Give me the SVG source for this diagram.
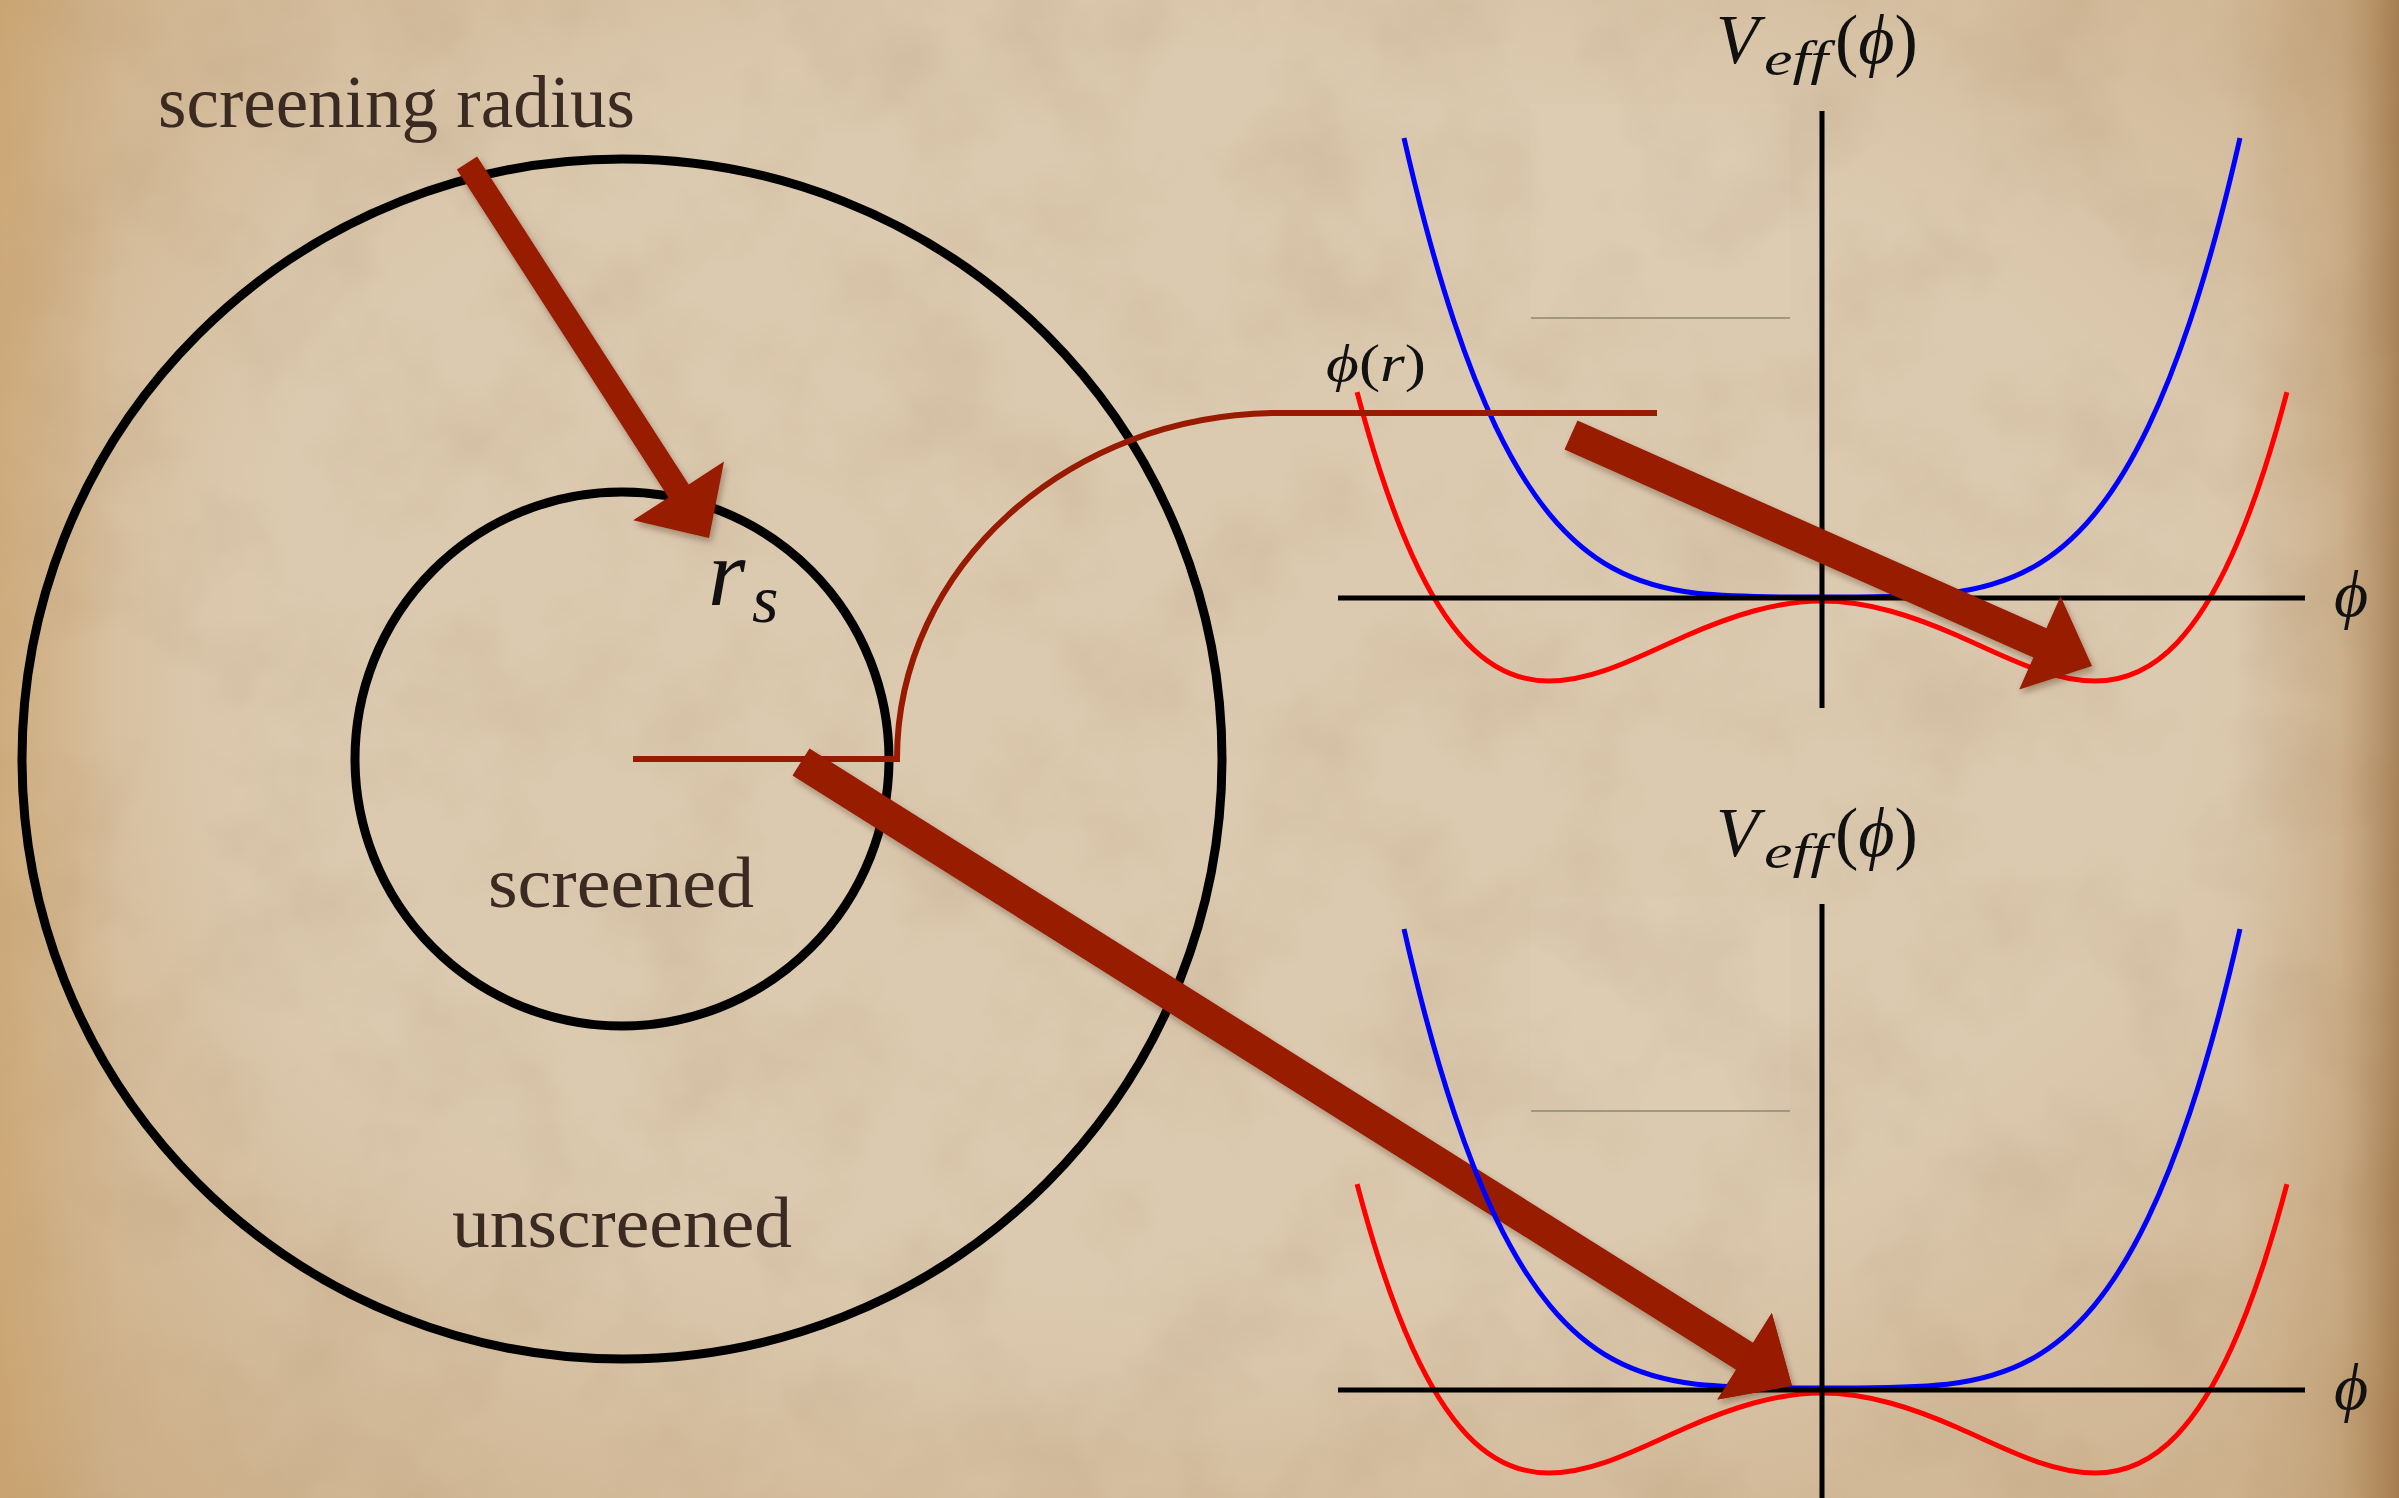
<svg xmlns="http://www.w3.org/2000/svg" xmlns:xlink="http://www.w3.org/1999/xlink" width="2399" height="1498" viewBox="0 0 2399 1498">
<style>
.ring{fill:none;stroke:#000;stroke-width:9}
.label{font-family:"Liberation Serif","DejaVu Serif",serif;fill:#3a2a22}
.math{font-family:"Liberation Serif","DejaVu Serif",serif;fill:#111;font-variant-ligatures:none;font-feature-settings:"liga" 0}
.axis{stroke:#000;stroke-width:5;fill:none}
.blue{fill:none;stroke:#0000ff;stroke-width:5;stroke-linejoin:round}
.red{fill:none;stroke:#ff0000;stroke-width:5;stroke-linejoin:round}
.arrow{fill:#981a00}
.conn{fill:none;stroke:#981a00;stroke-width:6}
.ghost{stroke:#a29684;stroke-width:2}
</style>
<defs>
<linearGradient id="edgeH" x1="0" y1="0" x2="1" y2="0">
<stop offset="0" stop-color="#c89a5e" stop-opacity="0.55"/>
<stop offset="0.05" stop-color="#c89a5e" stop-opacity="0.12"/>
<stop offset="0.12" stop-color="#c89a5e" stop-opacity="0"/>
<stop offset="0.93" stop-color="#a87840" stop-opacity="0"/>
<stop offset="0.975" stop-color="#a87840" stop-opacity="0.25"/>
<stop offset="1" stop-color="#8a5a28" stop-opacity="0.6"/>
</linearGradient>
<radialGradient id="vig" cx="0.5" cy="0.45" r="0.75">
<stop offset="0.55" stop-color="#b58a55" stop-opacity="0"/>
<stop offset="1" stop-color="#b58a55" stop-opacity="0.45"/>
</radialGradient>
<filter id="paper" x="0" y="0" width="1" height="1">
<feTurbulence type="fractalNoise" baseFrequency="0.008" numOctaves="4" seed="7"/>
<feColorMatrix type="matrix" values="0 0 0 0 0.55  0 0 0 0 0.42  0 0 0 0 0.28  0.9 0 0 0 -0.38"/>
</filter>
<filter id="shadow" x="-5%" y="-5%" width="110%" height="110%">
<feDropShadow dx="2" dy="4" stdDeviation="3" flood-color="#3a2010" flood-opacity="0.35"/>
</filter>
<path id="blueCurve" d="M-418,-459 C-411.03,-428.4 -404.07,-400.13 -397.1,-373.9 C-387.35,-337.17 -377.59,-304.49 -367.84,-275.3 C-353.91,-233.6 -339.97,-198.94 -326.04,-169.9 C-307.93,-132.15 -289.81,-103.78 -271.7,-81.93 C-250.8,-56.72 -229.9,-40.16 -209,-28.69 C-181.13,-13.39 -153.27,-7.03 -125.4,-3.72 C-83.6,0.6 -41.8,0 0,0 C41.8,0 83.6,0.6 125.4,-3.72 C153.27,-7.03 181.13,-13.39 209,-28.69 C229.9,-40.16 250.8,-56.72 271.7,-81.93 C289.81,-103.78 307.93,-132.15 326.04,-169.9 C339.97,-198.94 353.91,-233.6 367.84,-275.3 C377.59,-304.49 387.35,-337.17 397.1,-373.9 C404.07,-400.13 411.03,-428.4 418,-459"/>
<path id="redCurve" d="M-464.92,-208.86 C-457.37,-180.21 -449.81,-154.4 -442.26,-131.1 C-431.34,-97.42 -420.42,-69 -409.5,-45 C-391.3,-5 -373.1,22.77 -354.9,41.91 C-327.6,70.62 -300.3,80 -273,80 C-227.5,80 -182,55 -136.5,35 C-91,15 -45.5,0 0,0 C45.5,0 91,15 136.5,35 C182,55 227.5,80 273,80 C300.3,80 327.6,70.62 354.9,41.91 C373.1,22.77 391.3,-5 409.5,-45 C420.42,-69 431.34,-97.42 442.26,-131.1 C449.81,-154.4 457.37,-180.21 464.92,-208.86"/>
</defs>

<g id="background">
<rect x="0" y="0" width="2399" height="1498" fill="#dccab0"/>
<rect x="0" y="0" width="2399" height="1498" filter="url(#paper)"/>
<rect x="0" y="0" width="2399" height="1498" fill="url(#vig)"/>
<rect x="0" y="0" width="2399" height="1498" fill="url(#edgeH)"/>
</g>

<g id="outer-region">
<circle class="ring" cx="622" cy="759" r="600"/>
<text class="label" x="158" y="127" font-size="73" textLength="477" lengthAdjust="spacingAndGlyphs">screening radius</text>
<text class="label" x="452" y="1247" font-size="72" textLength="340" lengthAdjust="spacingAndGlyphs">unscreened</text>
</g>

<g id="inner-region">
<circle class="ring" cx="622" cy="759" r="267"/>
<text class="label" x="488" y="907" font-size="72" textLength="266" lengthAdjust="spacingAndGlyphs">screened</text>
<text class="math" x="708" y="605" font-size="96" font-style="italic">r</text>
<text class="math" x="752" y="622" font-size="68" font-style="italic">s</text>
</g>

<g id="plot-top">
<rect x="1531" y="104" width="259" height="214" fill="#e6d8c4" opacity="0.12"/>
<line class="ghost" x1="1531" y1="318" x2="1790" y2="318"/>
<use xlink:href="#blueCurve" href="#blueCurve" class="blue" transform="translate(1822,597)"/>
<use xlink:href="#redCurve" href="#redCurve" class="red" transform="translate(1822,601)"/>
<line class="axis" x1="1338" y1="598" x2="2305" y2="598"/>
<line class="axis" x1="1822" y1="111" x2="1822" y2="708"/>
<text class="math" x="1716" y="63" font-size="70" font-style="italic">V</text>
<text class="math" x="1764" y="75" font-size="48" font-style="italic" textLength="64" lengthAdjust="spacingAndGlyphs">eff</text>
<text class="math" x="1835" y="63" font-size="70"><tspan>(</tspan><tspan font-style="italic">ϕ</tspan><tspan>)</tspan></text>
<text class="math" x="2334" y="616" font-size="66" font-style="italic">ϕ</text>
<text class="math" x="1326" y="381" font-size="52" textLength="100" lengthAdjust="spacingAndGlyphs"><tspan font-style="italic">ϕ</tspan><tspan>(</tspan><tspan font-style="italic">r</tspan><tspan>)</tspan></text>
</g>

<g id="connectors">
<path class="conn" d="M633,759 L897,759 C897,568 1068,413 1280,413 L1657,413"/>
<polygon class="arrow" filter="url(#shadow)" points="456.9,169.5 668.5,497.4 633.2,520.2 709,538 724,461.6 688.7,484.4 477.1,156.5"/>
<polygon class="arrow" filter="url(#shadow)" points="1564.5,449.6 2033.4,657.5 2019.2,689.5 2092,666 2060.6,596.3 2046.4,628.3 1577.5,420.4"/>
<polygon class="arrow" filter="url(#shadow)" points="792.5,775.5 1736.1,1369.7 1717.4,1399.4 1792,1386 1771.8,1313 1753.1,1342.7 809.5,748.5"/>
</g>

<g id="plot-bottom">
<rect x="1531" y="897" width="259" height="214" fill="#e6d8c4" opacity="0.12"/>
<line class="ghost" x1="1531" y1="1111" x2="1790" y2="1111"/>
<use xlink:href="#blueCurve" href="#blueCurve" class="blue" transform="translate(1822,1388)"/>
<use xlink:href="#redCurve" href="#redCurve" class="red" transform="translate(1822,1393)"/>
<line class="axis" x1="1338" y1="1390" x2="2305" y2="1390"/>
<line class="axis" x1="1822" y1="904" x2="1822" y2="1498"/>
<text class="math" x="1716" y="856" font-size="70" font-style="italic">V</text>
<text class="math" x="1764" y="868" font-size="48" font-style="italic" textLength="64" lengthAdjust="spacingAndGlyphs">eff</text>
<text class="math" x="1835" y="856" font-size="70"><tspan>(</tspan><tspan font-style="italic">ϕ</tspan><tspan>)</tspan></text>
<text class="math" x="2334" y="1409" font-size="66" font-style="italic">ϕ</text>
</g>

<g id="arrow-bottom-head">
<polygon class="arrow" points="1717.4,1399.4 1792,1386 1771.8,1313"/>
</g>
</svg>
